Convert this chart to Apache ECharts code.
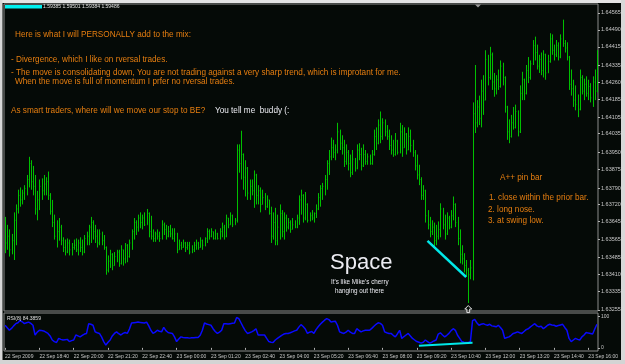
<!DOCTYPE html>
<html><head><meta charset="utf-8">
<script src="https://cdn.jsdelivr.net/npm/echarts@6/dist/echarts.min.js"></script>
<style>html,body{margin:0;padding:0;background:#050a07;}#c{width:625px;height:364px;}</style>
</head><body><div id="c"></div>
<script>
const priceTicks = [1.63255,1.63335,1.63410,1.63485,1.63565,1.63645,1.63720,1.63790,1.63875,1.63950,1.64035,1.64105,1.64185,1.64260,1.64335,1.64415,1.64490,1.64565];
const timeLabels = ['22 Sep 2009','22 Sep 18:40','22 Sep 20:00','22 Sep 21:20','22 Sep 22:40','23 Sep 00:00','23 Sep 01:20','23 Sep 02:40','23 Sep 04:00','23 Sep 05:20','23 Sep 06:40','23 Sep 08:00','23 Sep 09:20','23 Sep 10:40','23 Sep 12:00','23 Sep 13:20','23 Sep 14:40','23 Sep 16:00'];
const rsiTicks = [0, 100];

const openP = [
1.636,1.6355,1.6358,1.6352,1.6356,1.6365,1.637,1.6376,1.6374,1.6377,
1.6379,1.6383,1.639,1.6382,1.638,1.637,1.6374,1.638,1.6378,1.6381,
1.6382,1.6376,1.6369,1.6364,1.6358,1.636,1.6362,1.6356,1.6353,1.6351,
1.6355,1.6352,1.6353,1.6354,1.6352,1.6355,1.6353,1.6351,1.6357,1.6358,
1.6362,1.6364,1.636,1.6358,1.6355,1.6359,1.6356,1.6353,1.6343,1.6347,
1.635,1.6345,1.6349,1.6351,1.6346,1.6352,1.6348,1.6354,1.6349,1.6355,
1.636,1.6364,1.6362,1.6366,1.6364,1.6366,1.6363,1.6368,1.636,1.6358,
1.6357,1.6359,1.6358,1.6357,1.6363,1.6361,1.6358,1.636,1.6359,1.6357,
1.6359,1.6352,1.6354,1.6353,1.6355,1.6353,1.6354,1.6351,1.6352,1.6354,
1.6355,1.6353,1.6356,1.6354,1.6357,1.636,1.6358,1.636,1.6357,1.6359,
1.6357,1.636,1.6362,1.6358,1.6366,1.6363,1.6367,1.6363,1.6365,1.6396,
1.639,1.6394,1.6384,1.6388,1.6377,1.638,1.6378,1.6385,1.6376,1.6378,
1.6372,1.6375,1.6371,1.6374,1.6368,1.6358,1.6364,1.6356,1.6362,1.6368,
1.636,1.6366,1.6362,1.6364,1.6361,1.6363,1.6362,1.6366,1.6374,1.6376,
1.6366,1.6372,1.6365,1.6367,1.6366,1.6368,1.637,1.6375,1.6379,1.638,
1.6383,1.639,1.6393,1.6397,1.6395,1.6396,1.6404,1.6399,1.6397,1.6391,
1.6395,1.639,1.6386,1.6392,1.6388,1.6396,1.6394,1.6389,1.6394,1.6391,
1.6393,1.639,1.6394,1.6402,1.6399,1.6407,1.6402,1.6408,1.6404,1.6402,
1.6398,1.6396,1.6394,1.64,1.6395,1.6404,1.6397,1.6403,1.6396,1.6402,
1.6398,1.6395,1.6389,1.6385,1.6383,1.6376,1.6378,1.6367,1.6363,1.636,
1.6362,1.6356,1.6358,1.6361,1.637,1.6363,1.6359,1.6366,1.6362,1.6367,
1.6372,1.6364,1.6357,1.635,1.6348,1.6345,1.6343,1.6341,1.6344,1.6412,
1.6408,1.6415,1.641,1.6422,1.6418,1.6436,1.6428,1.6438,1.6426,1.6423,
1.6427,1.6424,1.6433,1.6428,1.6415,1.6404,1.6402,1.6408,1.6406,1.6413,
1.6404,1.6421,1.6427,1.6421,1.6431,1.6428,1.6434,1.6442,1.6439,1.6433,
1.6436,1.6431,1.6438,1.643,1.6435,1.6445,1.644,1.6438,1.6442,1.6437,
1.6445,1.6443,1.6441,1.6437,1.6425,1.6423,1.6418,1.6416,1.6414,1.6428,
1.6422,1.6425,1.6421,1.6424,1.6419,1.6426,1.6422];

const closeP = [
1.6355,1.6358,1.6352,1.6356,1.6365,1.637,1.6376,1.6374,1.6377,1.6379,
1.6383,1.639,1.6382,1.638,1.637,1.6374,1.638,1.6378,1.6381,1.6382,
1.6376,1.6369,1.6364,1.6358,1.636,1.6362,1.6356,1.6353,1.6351,1.6355,
1.6352,1.6353,1.6354,1.6352,1.6355,1.6353,1.6351,1.6357,1.6358,1.6362,
1.6364,1.636,1.6358,1.6355,1.6359,1.6356,1.6353,1.6343,1.6347,1.635,
1.6345,1.6349,1.6351,1.6346,1.6352,1.6348,1.6354,1.6349,1.6355,1.636,
1.6364,1.6362,1.6366,1.6364,1.6366,1.6363,1.6368,1.636,1.6358,1.6357,
1.6359,1.6358,1.6357,1.6363,1.6361,1.6358,1.636,1.6359,1.6357,1.6359,
1.6352,1.6354,1.6353,1.6355,1.6353,1.6354,1.6351,1.6352,1.6354,1.6355,
1.6353,1.6356,1.6354,1.6357,1.636,1.6358,1.636,1.6357,1.6359,1.6357,
1.636,1.6362,1.6358,1.6366,1.6363,1.6367,1.6363,1.6365,1.6396,1.639,
1.6394,1.6384,1.6388,1.6377,1.638,1.6378,1.6385,1.6376,1.6378,1.6372,
1.6375,1.6371,1.6374,1.6368,1.6358,1.6364,1.6356,1.6362,1.6368,1.636,
1.6366,1.6362,1.6364,1.6361,1.6363,1.6362,1.6366,1.6374,1.6376,1.6366,
1.6372,1.6365,1.6367,1.6366,1.6368,1.637,1.6375,1.6379,1.638,1.6383,
1.639,1.6393,1.6397,1.6395,1.6396,1.6404,1.6399,1.6397,1.6391,1.6395,
1.639,1.6386,1.6392,1.6388,1.6396,1.6394,1.6389,1.6394,1.6391,1.6393,
1.639,1.6394,1.6402,1.6399,1.6407,1.6402,1.6408,1.6404,1.6402,1.6398,
1.6396,1.6394,1.64,1.6395,1.6404,1.6397,1.6403,1.6396,1.6402,1.6398,
1.6395,1.6389,1.6385,1.6383,1.6376,1.6378,1.6367,1.6363,1.636,1.6362,
1.6356,1.6358,1.6361,1.637,1.6363,1.6359,1.6366,1.6362,1.6367,1.6372,
1.6364,1.6357,1.635,1.6348,1.6345,1.6343,1.6341,1.6344,1.6412,1.6408,
1.6415,1.641,1.6422,1.6418,1.6436,1.6428,1.6438,1.6426,1.6423,1.6427,
1.6424,1.6433,1.6428,1.6415,1.6404,1.6402,1.6408,1.6406,1.6413,1.6404,
1.6421,1.6427,1.6421,1.6431,1.6428,1.6434,1.6442,1.6439,1.6433,1.6436,
1.6431,1.6438,1.643,1.6435,1.6445,1.644,1.6438,1.6442,1.6437,1.6445,
1.6443,1.6441,1.6437,1.6425,1.6423,1.6418,1.6416,1.6414,1.6428,1.6422,
1.6425,1.6421,1.6424,1.6419,1.6426,1.6422,1.6434];

const lowP = [
1.63505,1.6352,1.6349,1.635,1.63475,1.6354,1.6368,1.6371,1.6372,1.6374,
1.6376,1.63795,1.63785,1.6376,1.63675,1.6365,1.63695,1.6374,1.6376,1.6376,
1.6374,1.63675,1.6362,1.63565,1.6353,1.6356,1.6354,1.6351,1.63495,1.63505,
1.63495,1.63495,1.6352,1.6351,1.63495,1.6351,1.63495,1.63505,1.6354,1.6354,
1.6355,1.63565,1.6355,1.6353,1.6354,1.6354,1.6352,1.6341,1.6342,1.6344,
1.6343,1.6345,1.63465,1.63445,1.63455,1.6345,1.6346,1.63465,1.63485,1.6352,
1.63565,1.63585,1.636,1.63615,1.6361,1.63625,1.6363,1.63575,1.63565,1.63555,
1.63555,1.63565,1.63555,1.63565,1.63585,1.63565,1.63575,1.63575,1.63565,1.63555,
1.63505,1.6352,1.6352,1.6353,1.6351,1.6352,1.635,1.63505,1.6351,1.6352,
1.6352,1.6353,1.6352,1.63535,1.6355,1.63565,1.63575,1.63565,1.63565,1.63565,
1.63565,1.63575,1.63565,1.63575,1.63615,1.6363,1.6362,1.6363,1.6364,1.6386,
1.6383,1.63785,1.63755,1.6374,1.6374,1.6376,1.63705,1.6372,1.6372,1.63685,
1.6372,1.63695,1.63705,1.63675,1.6355,1.63565,1.6354,1.6354,1.63565,1.63575,
1.63565,1.636,1.6361,1.63595,1.6361,1.63615,1.63615,1.6363,1.63675,1.6364,
1.6365,1.6364,1.63645,1.6365,1.6364,1.6366,1.63695,1.6371,1.6374,1.6376,
1.63785,1.6385,1.63915,1.63925,1.63915,1.63945,1.6396,1.6394,1.63885,1.63895,
1.6387,1.6384,1.6385,1.63865,1.63875,1.63915,1.6387,1.63885,1.63895,1.63895,
1.63895,1.63895,1.63935,1.6396,1.63985,1.6399,1.64005,1.6402,1.64005,1.6396,
1.6394,1.6393,1.63935,1.6394,1.63945,1.6393,1.6397,1.6394,1.6396,1.6395,
1.6393,1.6387,1.6383,1.63805,1.6374,1.6374,1.6364,1.6361,1.63575,1.63585,
1.63535,1.6354,1.63565,1.63575,1.6361,1.63565,1.63585,1.6361,1.63615,1.6365,
1.6362,1.6354,1.6346,1.63455,1.6342,1.634,1.63285,1.6339,1.63385,1.64035,
1.6406,1.6407,1.6406,1.64115,1.6418,1.64245,1.6427,1.64225,1.64195,1.64205,
1.64225,1.64235,1.64245,1.64125,1.64005,1.6399,1.64015,1.6405,1.64055,1.6402,
1.64035,1.6418,1.6418,1.64205,1.64255,1.6427,1.64335,1.64355,1.64315,1.643,
1.6429,1.6428,1.6427,1.643,1.64345,1.6438,1.64355,1.6437,1.64355,1.64365,
1.64415,1.6439,1.64355,1.64225,1.642,1.6415,1.64135,1.64105,1.64135,1.64205,
1.6418,1.64195,1.6418,1.6417,1.6415,1.6418,1.64215];

const highP = [
1.63665,1.6363,1.6361,1.6359,1.63685,1.6372,1.63785,1.63795,1.63785,1.63805,
1.6385,1.6393,1.63915,1.6389,1.6385,1.6378,1.6383,1.63835,1.6385,1.6384,
1.63865,1.6377,1.6374,1.63675,1.6365,1.6366,1.6363,1.63575,1.63565,1.6357,
1.63565,1.6355,1.63565,1.6357,1.63565,1.63575,1.63565,1.63585,1.636,1.6363,
1.63665,1.6365,1.6363,1.6361,1.6361,1.636,1.63585,1.63535,1.63495,1.6352,
1.63505,1.6351,1.6352,1.6352,1.6354,1.6352,1.6355,1.63545,1.63565,1.6361,
1.6366,1.6365,1.63675,1.63685,1.63675,1.63685,1.637,1.63685,1.6367,1.6361,
1.636,1.6361,1.636,1.6365,1.6364,1.6363,1.63625,1.6363,1.63615,1.63615,
1.63595,1.63565,1.63555,1.63565,1.63555,1.63555,1.63555,1.6354,1.63555,1.63565,
1.63555,1.63575,1.63565,1.63575,1.63615,1.6361,1.63615,1.636,1.6361,1.63595,
1.63615,1.6364,1.6363,1.63675,1.6366,1.63685,1.63675,1.6366,1.63985,1.63985,
1.64045,1.63945,1.63915,1.63885,1.6383,1.6383,1.6387,1.63855,1.63805,1.63795,
1.63785,1.6377,1.6376,1.6374,1.6371,1.63685,1.63705,1.63675,1.6372,1.63695,
1.63685,1.63675,1.6366,1.6365,1.6366,1.6365,1.63675,1.6376,1.63785,1.63765,
1.63775,1.63725,1.63685,1.63695,1.63685,1.6372,1.6377,1.63805,1.63815,1.6385,
1.63915,1.6396,1.64015,1.64005,1.63985,1.6408,1.6405,1.64025,1.64005,1.63985,
1.6396,1.6394,1.6396,1.63925,1.63985,1.6399,1.6397,1.63985,1.6396,1.63945,
1.6394,1.6396,1.6405,1.6406,1.64095,1.6413,1.641,1.64095,1.6407,1.6405,
1.64025,1.64005,1.64035,1.64005,1.6408,1.6407,1.6406,1.64035,1.6406,1.6405,
1.64005,1.6396,1.6394,1.63895,1.6384,1.63805,1.63785,1.63695,1.63665,1.6365,
1.6364,1.6363,1.63645,1.63725,1.63705,1.63675,1.63685,1.6367,1.63695,1.63755,
1.63725,1.63665,1.6361,1.6354,1.63505,1.63475,1.6344,1.63475,1.6417,1.64335,
1.6418,1.642,1.6427,1.6429,1.644,1.6438,1.64415,1.6439,1.643,1.6429,
1.64315,1.64355,1.64345,1.64285,1.64155,1.64095,1.64115,1.6415,1.6416,1.64135,
1.64245,1.64305,1.64275,1.64335,1.6437,1.64355,1.64445,1.6446,1.64425,1.6438,
1.6439,1.644,1.64385,1.6438,1.64475,1.6447,1.64425,1.64445,1.64435,1.6447,
1.64535,1.64445,1.64435,1.64375,1.64315,1.6427,1.64245,1.64205,1.64315,1.6429,
1.64275,1.64285,1.6427,1.64255,1.64285,1.64315,1.644];

const rsiValues = [
72,64,56,62,70,77,80,87,83,77,
80,82,78,72,41,50,56,55,54,50,
46,38,25,20,17,30,27,25,26,27,
20,23,25,41,38,35,40,44,46,77,
75,72,51,48,46,35,20,9,18,25,
38,46,51,45,41,46,49,46,60,79,
80,81,82,81,80,79,82,70,56,46,
50,56,53,51,65,55,49,47,46,35,
20,28,35,33,32,32,31,32,32,33,
33,40,56,79,76,74,72,61,52,46,
50,56,77,77,76,77,78,79,97,93,
80,67,55,46,48,51,55,61,41,41,
41,41,30,20,18,17,25,30,35,40,
44,46,46,48,51,54,56,66,74,68,
60,46,50,52,46,58,67,75,82,88,
93,90,82,84,85,72,51,48,46,50,
56,50,46,46,61,56,51,54,56,56,
56,62,69,75,80,78,72,51,48,46,
46,40,35,45,56,30,36,41,46,38,
30,25,20,18,15,18,25,20,15,18,
22,25,44,48,41,35,40,46,55,61,
56,40,30,20,18,17,17,20,87,91,
80,72,75,77,74,72,75,70,69,67,
72,65,56,30,33,35,40,46,48,51,
48,46,52,58,61,67,72,77,70,67,
69,61,66,72,75,73,72,69,71,73,
75,65,56,30,20,25,30,27,25,35,
41,49,47,46,44,60,75];

const trendPrice = [[197, 1.63559], [215, 1.63400]];
const trendRsi = [[193, 7], [218, 16]];
const pinBarIndex = 216;

// 5-minute bar times starting 22 Sep 17:20
const cats = [];
for (let i = 0; i < openP.length; i++) {
  const m = 17 * 60 + 20 + 5 * i;
  const day = m >= 1440 ? 23 : 22;
  const mm = m % 1440;
  cats.push(day + ' Sep ' + String(Math.floor(mm / 60)).padStart(2, '0') + ':' + String(mm % 60).padStart(2, '0'));
}
const bars = cats.map((_, i) => [i, openP[i], closeP[i], lowP[i], highP[i]]);

const ORANGE = '#e67e10';
const WHITE = '#ececf2';
const GREEN = '#00c000';
const FONT = 'Liberation Sans, Arial, sans-serif';
function txt(x, y, s, size, color) {
  return { type: 'text', x: x, y: y, z: 100, silent: true,
    style: { text: s, fill: color, font: size + 'px ' + FONT, verticalAlign: 'middle', align: 'left' } };
}

function renderBar(params, api) {
  const i = api.value(0);
  const pO = api.coord([i, api.value(1)]);
  const pC = api.coord([i, api.value(2)]);
  const pL = api.coord([i, api.value(3)]);
  const pH = api.coord([i, api.value(4)]);
  const x = Math.round(pL[0]) + 0.5;
  return { type: 'group', children: [
    { type: 'line', shape: { x1: x, y1: pH[1], x2: x, y2: pL[1] }, style: { stroke: GREEN, lineWidth: 1 } },
    { type: 'line', shape: { x1: x - 0.5, y1: pO[1], x2: x, y2: pO[1] }, style: { stroke: GREEN, lineWidth: 1 } },
    { type: 'line', shape: { x1: x, y1: pC[1], x2: x + 0.8, y2: pC[1] }, style: { stroke: GREEN, lineWidth: 1 } }
  ] };
}

const chart = echarts.init(document.getElementById('c'), null, { renderer: 'canvas', width: 625, height: 364 });
chart.setOption({
  animation: false,
  backgroundColor: '#050a07',
  grid: [
    { left: 4, top: 4, right: 27, height: 307, show: true, borderColor: '#8c8c8c', borderWidth: 1, backgroundColor: 'transparent' },
    { left: 4, top: 313, right: 27, height: 38, show: true, borderColor: '#8c8c8c', borderWidth: 1, backgroundColor: 'transparent' }
  ],
  xAxis: [
    { type: 'category', gridIndex: 0, data: cats, boundaryGap: true,
      axisLine: { show: false }, axisTick: { show: false }, axisLabel: { show: false }, splitLine: { show: false } },
    { type: 'category', gridIndex: 1, data: cats, boundaryGap: true,
      axisLine: { show: false },
      axisTick: { show: true, alignWithLabel: true, length: 2, interval: (i) => i % 16 === 0, lineStyle: { color: '#b0b0b0' } },
      axisLabel: { show: true, interval: (i) => i % 16 === 0, formatter: (v, i) => timeLabels[Math.round(i / 16)] || '',
        color: '#c8c8c8', fontSize: 5, fontFamily: FONT, align: 'left', margin: 3 },
      splitLine: { show: false } }
  ],
  yAxis: [
    { type: 'value', gridIndex: 0, position: 'right', min: 1.63250, max: 1.64604,
      axisLine: { show: false }, splitLine: { show: false },
      axisTick: { show: true, length: 2, customValues: priceTicks, lineStyle: { color: '#b0b0b0' } },
      axisLabel: { show: true, customValues: priceTicks, formatter: (v) => v.toFixed(5), color: '#c8c8c8', fontSize: 5.5, fontFamily: FONT, margin: 3 } },
    { type: 'value', gridIndex: 1, position: 'right', min: -10, max: 111,
      axisLine: { show: false }, splitLine: { show: false },
      axisTick: { show: true, length: 2, customValues: rsiTicks, lineStyle: { color: '#b0b0b0' } },
      axisLabel: { show: true, customValues: rsiTicks, formatter: (v) => String(v), color: '#c8c8c8', fontSize: 5, fontFamily: FONT, margin: 3 } }
  ],
  series: [
    { type: 'custom', xAxisIndex: 0, yAxisIndex: 0, data: bars, silent: true, renderItem: renderBar,
      encode: { x: 0, y: [1, 2, 3, 4] },
      markLine: { silent: true, symbol: 'none', label: { show: false },
        lineStyle: { color: '#00e8e8', width: 2.5, type: 'solid' },
        data: [[{ coord: [trendPrice[0][0], trendPrice[0][1]] }, { coord: [trendPrice[1][0], trendPrice[1][1]] }]] },
      markPoint: { silent: true, symbol: 'path://M5,0 L10,5 L7,5 L7,10 L3,10 L3,5 L0,5 Z', symbolSize: [7, 7], symbolOffset: [0, 6],
        itemStyle: { color: 'rgba(0,0,0,0)', borderColor: '#e0e0e0', borderWidth: 1 }, label: { show: false },
        data: [{ coord: [pinBarIndex, lowP[pinBarIndex]] }] } },
    { type: 'line', xAxisIndex: 1, yAxisIndex: 1, data: rsiValues, symbol: 'none', silent: true,
      lineStyle: { color: '#0a0aff', width: 1.5 },
      markLine: { silent: true, symbol: 'none', label: { show: false },
        lineStyle: { color: '#00e8e8', width: 2, type: 'solid' },
        data: [[{ coord: [cats[trendRsi[0][0]], trendRsi[0][1]] }, { coord: [cats[trendRsi[1][0]], trendRsi[1][1]] }]] } }
  ],
  graphic: [
    { type: 'rect', shape: { x: 0, y: 0, width: 625, height: 3 }, style: { fill: '#e4e4e4' }, z: 50 },
    { type: 'rect', shape: { x: 0, y: 0, width: 2.5, height: 364 }, style: { fill: '#d8d8d8' }, z: 50 },
    { type: 'rect', shape: { x: 621, y: 0, width: 4, height: 364 }, style: { fill: '#d8d8d8' }, z: 50 },
    { type: 'rect', shape: { x: 0, y: 360, width: 625, height: 4 }, style: { fill: '#d4d4d4' }, z: 50 },
    { type: 'rect', shape: { x: 5, y: 5, width: 37, height: 3.5 }, style: { fill: '#00f0f0' }, z: 60 },
    { type: 'polygon', shape: { points: [[475, 4.5], [481, 4.5], [478, 7.5]] }, style: { fill: '#9a9a9a' }, z: 60 },
    txt(43, 7, '1.59385 1.59501 1.59384 1.59486', 5, '#e0e0e0'),
    txt(15, 35, 'Here is what I will PERSONALLY add to the mix:', 8.2, ORANGE),
    txt(11, 59.5, '- Divergence, which I like on rversal trades.', 8.2, ORANGE),
    txt(11, 72.5, '- The move is consolidating down, You are not trading against a very sharp trend, which is improtant for me.', 8.2, ORANGE),
    txt(15, 82, 'When the move is full of momentum I prfer no rversal trades.', 8.2, ORANGE),
    txt(11, 111, 'As smart traders, where will we move our stop to BE?', 8.2, ORANGE),
    txt(215, 111, 'You tell me  buddy (:', 8.2, WHITE),
    txt(330, 262.5, 'Space', 22, WHITE),
    txt(331, 282.5, "It's like Mike's cherry", 6.3, WHITE),
    txt(335, 290.8, 'hanging out there', 6.3, WHITE),
    txt(500, 178, 'A++ pin bar', 8.2, ORANGE),
    txt(489, 198, '1. close within the prior bar.', 8.2, ORANGE),
    txt(488, 209.5, '2. long nose.', 8.2, ORANGE),
    txt(488, 221, '3. at swing low.', 8.2, ORANGE),
    txt(7, 318.5, 'RSI(8) 84.3859', 5, '#e0e0e0')
  ]
});
</script>
</body></html>
